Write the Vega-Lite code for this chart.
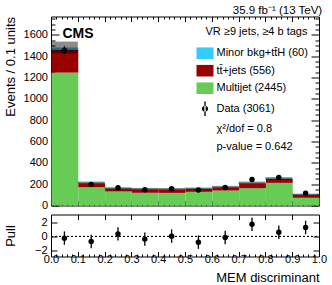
{
  "$schema": "https://vega.github.io/schema/vega-lite/v6.json",
  "padding": {"left": 3, "top": 3.5, "right": 0, "bottom": 0},
  "bounds": "flush",
  "config": {
    "font": "Liberation Sans",
    "view": {"stroke": "black", "strokeWidth": 1},
    "axis": {"grid": false, "domain": false, "labelColor": "black", "tickColor": "black", "titleColor": "black", "labelFontSize": 11, "titleFontSize": 13, "titleFontWeight": "normal", "labelFlush": false, "labelOverlap": false, "tickWidth": 1, "minExtent": 0},
    "legend": {"labelColor": "black", "titleColor": "black", "labelFontSize": 11, "padding": 0}
  },
  "spacing": 9,
  "datasets": {
    "stack": [
      {"lo": 0.0, "hi": 0.1, "process": "Multijet (2445)", "layer": 1, "events": 1245},
      {"lo": 0.1, "hi": 0.2, "process": "Multijet (2445)", "layer": 1, "events": 171},
      {"lo": 0.2, "hi": 0.3, "process": "Multijet (2445)", "layer": 1, "events": 131},
      {"lo": 0.3, "hi": 0.4, "process": "Multijet (2445)", "layer": 1, "events": 119},
      {"lo": 0.4, "hi": 0.5, "process": "Multijet (2445)", "layer": 1, "events": 118},
      {"lo": 0.5, "hi": 0.6, "process": "Multijet (2445)", "layer": 1, "events": 128},
      {"lo": 0.6, "hi": 0.7, "process": "Multijet (2445)", "layer": 1, "events": 140},
      {"lo": 0.7, "hi": 0.8, "process": "Multijet (2445)", "layer": 1, "events": 162},
      {"lo": 0.8, "hi": 0.9, "process": "Multijet (2445)", "layer": 1, "events": 212},
      {"lo": 0.9, "hi": 1.0, "process": "Multijet (2445)", "layer": 1, "events": 72},
      {"lo": 0.0, "hi": 0.1, "process": "tt̄+jets (556)", "layer": 2, "events": 217},
      {"lo": 0.1, "hi": 0.2, "process": "tt̄+jets (556)", "layer": 2, "events": 38},
      {"lo": 0.2, "hi": 0.3, "process": "tt̄+jets (556)", "layer": 2, "events": 28},
      {"lo": 0.3, "hi": 0.4, "process": "tt̄+jets (556)", "layer": 2, "events": 34},
      {"lo": 0.4, "hi": 0.5, "process": "tt̄+jets (556)", "layer": 2, "events": 34},
      {"lo": 0.5, "hi": 0.6, "process": "tt̄+jets (556)", "layer": 2, "events": 28},
      {"lo": 0.6, "hi": 0.7, "process": "tt̄+jets (556)", "layer": 2, "events": 31},
      {"lo": 0.7, "hi": 0.8, "process": "tt̄+jets (556)", "layer": 2, "events": 46},
      {"lo": 0.8, "hi": 0.9, "process": "tt̄+jets (556)", "layer": 2, "events": 37},
      {"lo": 0.9, "hi": 1.0, "process": "tt̄+jets (556)", "layer": 2, "events": 30},
      {"lo": 0.0, "hi": 0.1, "process": "Minor bkg+tt̄H (60)", "layer": 3, "events": 19},
      {"lo": 0.1, "hi": 0.2, "process": "Minor bkg+tt̄H (60)", "layer": 3, "events": 5},
      {"lo": 0.2, "hi": 0.3, "process": "Minor bkg+tt̄H (60)", "layer": 3, "events": 4},
      {"lo": 0.3, "hi": 0.4, "process": "Minor bkg+tt̄H (60)", "layer": 3, "events": 4},
      {"lo": 0.4, "hi": 0.5, "process": "Minor bkg+tt̄H (60)", "layer": 3, "events": 4},
      {"lo": 0.5, "hi": 0.6, "process": "Minor bkg+tt̄H (60)", "layer": 3, "events": 4},
      {"lo": 0.6, "hi": 0.7, "process": "Minor bkg+tt̄H (60)", "layer": 3, "events": 4},
      {"lo": 0.7, "hi": 0.8, "process": "Minor bkg+tt̄H (60)", "layer": 3, "events": 5},
      {"lo": 0.8, "hi": 0.9, "process": "Minor bkg+tt̄H (60)", "layer": 3, "events": 5},
      {"lo": 0.9, "hi": 1.0, "process": "Minor bkg+tt̄H (60)", "layer": 3, "events": 3}
    ],
    "bins": [
      {"lo": 0.0, "hi": 0.1, "mid": 0.05, "series": "Data (3061)", "data": 1455, "data_lo": 1417, "data_hi": 1493, "bkg_lo": 1426, "bkg_hi": 1536, "pull": -0.23, "pull_lo": -1.18, "pull_hi": 0.72},
      {"lo": 0.1, "hi": 0.2, "mid": 0.15, "series": "Data (3061)", "data": 198, "data_lo": 184, "data_hi": 212, "bkg_lo": 204, "bkg_hi": 224, "pull": -0.7, "pull_lo": -1.65, "pull_hi": 0.25},
      {"lo": 0.2, "hi": 0.3, "mid": 0.25, "series": "Data (3061)", "data": 166, "data_lo": 153, "data_hi": 179, "bkg_lo": 155, "bkg_hi": 171, "pull": 0.37, "pull_lo": -0.58, "pull_hi": 1.32},
      {"lo": 0.3, "hi": 0.4, "mid": 0.35, "series": "Data (3061)", "data": 147, "data_lo": 135, "data_hi": 159, "bkg_lo": 149, "bkg_hi": 165, "pull": -0.37, "pull_lo": -1.32, "pull_hi": 0.58},
      {"lo": 0.4, "hi": 0.5, "mid": 0.45, "series": "Data (3061)", "data": 157, "data_lo": 144, "data_hi": 170, "bkg_lo": 148, "bkg_hi": 164, "pull": 0.05, "pull_lo": -0.9, "pull_hi": 1.0},
      {"lo": 0.5, "hi": 0.6, "mid": 0.55, "series": "Data (3061)", "data": 145, "data_lo": 133, "data_hi": 157, "bkg_lo": 152, "bkg_hi": 168, "pull": -0.8, "pull_lo": -1.75, "pull_hi": 0.15},
      {"lo": 0.6, "hi": 0.7, "mid": 0.65, "series": "Data (3061)", "data": 168, "data_lo": 155, "data_hi": 181, "bkg_lo": 166, "bkg_hi": 184, "pull": -0.14, "pull_lo": -1.09, "pull_hi": 0.81},
      {"lo": 0.7, "hi": 0.8, "mid": 0.75, "series": "Data (3061)", "data": 244, "data_lo": 228, "data_hi": 260, "bkg_lo": 202, "bkg_hi": 224, "pull": 1.73, "pull_lo": 0.78, "pull_hi": 2.68},
      {"lo": 0.8, "hi": 0.9, "mid": 0.85, "series": "Data (3061)", "data": 262, "data_lo": 246, "data_hi": 278, "bkg_lo": 242, "bkg_hi": 266, "pull": 0.6, "pull_lo": -0.35, "pull_hi": 1.55},
      {"lo": 0.9, "hi": 1.0, "mid": 0.95, "series": "Data (3061)", "data": 116, "data_lo": 105, "data_hi": 127, "bkg_lo": 99, "bkg_hi": 111, "pull": 1.27, "pull_lo": 0.32, "pull_hi": 2.22}
    ]
  },
  "vconcat": [
    {
      "width": 268,
      "height": 189,
      "layer": [
        {
          "data": {"name": "stack"},
          "mark": {"type": "bar", "strokeWidth": 0, "binSpacing": 0},
          "encoding": {
            "x": {"field": "lo", "type": "quantitative", "bin": {"binned": true, "step": 0.1}, "scale": {"domain": [0, 1], "nice": false, "zero": false},
                  "axis": {"orient": "bottom", "values": [0, 0.1, 0.2, 0.3, 0.4, 0.5, 0.6, 0.7, 0.8, 0.9, 1], "labels": false, "tickSize": -5, "title": null}},
            "x2": {"field": "hi"},
            "y": {"field": "events", "type": "quantitative", "stack": "zero", "scale": {"domain": [0, 1771], "nice": false},
                  "axis": {"orient": "left", "values": [0, 200, 400, 600, 800, 1000, 1200, 1400, 1600], "format": "d", "tickSize": -8, "labelPadding": 11.5,
                           "title": "Events / 0.1 units", "titleX": -47, "titleY": 0, "titleAlign": "right", "titleBaseline": "top", "titleAngle": 270}},
            "color": {"field": "process", "type": "nominal",
                      "scale": {"domain": ["Minor bkg+tt̄H (60)", "tt̄+jets (556)", "Multijet (2445)"], "range": ["#33ccff", "#990000", "#66cc55"]},
                      "legend": {"orient": "none", "legendX": 145.5, "legendY": 9, "title": "VR ≥9 jets, ≥4 b tags", "titleAnchor": "end", "titleFontSize": 11, "titleFontWeight": "normal", "titlePadding": 8.2,
                                 "symbolType": "M-1,-0.68H1V0.68H-1Z", "symbolSize": 289, "symbolStrokeWidth": 0, "labelOffset": 3, "rowPadding": 2.5}},
            "order": {"field": "layer", "type": "quantitative"}
          }
        },
        {
          "data": {"name": "bins"},
          "mark": {"type": "rect", "fill": "black", "fillOpacity": 0.45},
          "encoding": {
            "x": {"field": "lo", "type": "quantitative", "scale": {"domain": [0, 1], "nice": false, "zero": false},
                  "axis": {"orient": "top", "values": [0, 0.1, 0.2, 0.3, 0.4, 0.5, 0.6, 0.7, 0.8, 0.9, 1], "labels": false, "tickSize": -5,
                           "title": "35.9 fb⁻¹ (13 TeV)", "titleX": 270.7, "titleY": -3.3, "titleAngle": 0, "titleAlign": "right", "titleBaseline": "alphabetic", "titleFontSize": 11.5}},
            "x2": {"field": "hi"},
            "y": {"field": "bkg_lo", "type": "quantitative", "scale": {"domain": [0, 1771], "nice": false},
                  "axis": {"orient": "right", "values": [0, 200, 400, 600, 800, 1000, 1200, 1400, 1600], "labels": false, "tickSize": -8, "title": null}},
            "y2": {"field": "bkg_hi"}
          }
        },
        {
          "data": {"name": "bins"},
          "mark": {"type": "rule", "color": "black", "strokeWidth": 1.3},
          "encoding": {
            "x": {"field": "mid", "type": "quantitative", "scale": {"domain": [0, 1], "nice": false, "zero": false},
                  "axis": {"orient": "bottom", "values": [0.02, 0.04, 0.06, 0.08, 0.12, 0.14, 0.16, 0.18, 0.22, 0.24, 0.26, 0.28, 0.32, 0.34, 0.36, 0.38, 0.42, 0.44, 0.46, 0.48, 0.52, 0.54, 0.56, 0.58, 0.62, 0.64, 0.66, 0.68, 0.72, 0.74, 0.76, 0.78, 0.82, 0.84, 0.86, 0.88, 0.92, 0.94, 0.96, 0.98], "labels": false, "tickSize": -2.5, "title": null}},
            "y": {"field": "data_lo", "type": "quantitative", "scale": {"domain": [0, 1771], "nice": false},
                  "axis": {"orient": "left", "values": [50, 100, 150, 250, 300, 350, 450, 500, 550, 650, 700, 750, 850, 900, 950, 1050, 1100, 1150, 1250, 1300, 1350, 1450, 1500, 1550, 1650, 1700, 1750], "labels": false, "tickSize": -4, "title": null}},
            "y2": {"field": "data_hi"}
          }
        },
        {
          "data": {"name": "bins"},
          "mark": {"type": "point", "filled": true, "color": "black", "size": 30, "opacity": 1},
          "encoding": {
            "x": {"field": "mid", "type": "quantitative", "scale": {"domain": [0, 1], "nice": false, "zero": false},
                  "axis": {"orient": "top", "values": [0.02, 0.04, 0.06, 0.08, 0.12, 0.14, 0.16, 0.18, 0.22, 0.24, 0.26, 0.28, 0.32, 0.34, 0.36, 0.38, 0.42, 0.44, 0.46, 0.48, 0.52, 0.54, 0.56, 0.58, 0.62, 0.64, 0.66, 0.68, 0.72, 0.74, 0.76, 0.78, 0.82, 0.84, 0.86, 0.88, 0.92, 0.94, 0.96, 0.98], "labels": false, "tickSize": -2.5, "title": null}},
            "y": {"field": "data", "type": "quantitative", "scale": {"domain": [0, 1771], "nice": false},
                  "axis": {"orient": "right", "values": [50, 100, 150, 250, 300, 350, 450, 500, 550, 650, 700, 750, 850, 900, 950, 1050, 1100, 1150, 1250, 1300, 1350, 1450, 1500, 1550, 1650, 1700, 1750], "labels": false, "tickSize": -4,
                           "title": "CMS", "titleX": -257, "titleY": 20.5, "titleAngle": 0, "titleAlign": "left", "titleBaseline": "alphabetic", "titleFontSize": 14, "titleFontWeight": "bold"}}
          }
        },
        {
          "data": {"name": "bins"},
          "mark": {"type": "point", "filled": true, "color": "black", "opacity": 0},
          "encoding": {
            "x": {"field": "mid", "type": "quantitative", "scale": {"domain": [0, 1], "nice": false, "zero": false}, "axis": null},
            "y": {"field": "data", "type": "quantitative", "scale": {"domain": [0, 1771], "nice": false}, "axis": null},
            "shape": {"field": "series", "type": "nominal",
                      "scale": {"domain": ["Data (3061)", "χ²/dof = 0.8", "p-value = 0.642"],
                                "range": ["M-0.08,-0.85H0.08V0.85H-0.08Z M-0.36,0A0.36,0.36 0 1,0 0.36,0A0.36,0.36 0 1,0 -0.36,0Z", "M0,0Z", "M0,0Z"]},
                      "legend": {"orient": "none", "legendX": 145.5, "legendY": 83.8, "title": null, "symbolSize": 289, "labelOffset": 3, "rowPadding": 4.2,
                                 "symbolOpacity": 1, "symbolFillColor": "black", "symbolStrokeWidth": 0}}
          }
        }
      ],
      "resolve": {"axis": {"x": "independent", "y": "independent"}}
    },
    {
      "width": 268,
      "height": 42,
      "layer": [
        {
          "data": {"name": "bins"},
          "mark": {"type": "rule", "color": "black", "strokeWidth": 0.8, "strokeDash": [2, 2]},
          "encoding": {
            "x": {"datum": 0, "type": "quantitative", "scale": {"domain": [0, 1], "nice": false, "zero": false},
                  "axis": {"orient": "bottom", "values": [0.02, 0.04, 0.06, 0.08, 0.12, 0.14, 0.16, 0.18, 0.22, 0.24, 0.26, 0.28, 0.32, 0.34, 0.36, 0.38, 0.42, 0.44, 0.46, 0.48, 0.52, 0.54, 0.56, 0.58, 0.62, 0.64, 0.66, 0.68, 0.72, 0.74, 0.76, 0.78, 0.82, 0.84, 0.86, 0.88, 0.92, 0.94, 0.96, 0.98], "labels": false, "tickSize": -2.5, "title": null}},
            "x2": {"datum": 1},
            "y": {"datum": 0, "type": "quantitative", "scale": {"domain": [-2.82, 3.1], "nice": false, "zero": false},
                  "axis": {"orient": "left", "values": [-2, 0, 2], "format": "d", "tickSize": -6, "labelPadding": 10,
                           "title": "Pull", "titleX": -47, "titleY": 21, "titleAlign": "center", "titleBaseline": "top", "titleAngle": 270}}
          }
        },
        {
          "data": {"name": "bins"},
          "mark": {"type": "rule", "color": "black", "strokeWidth": 1.3},
          "encoding": {
            "x": {"field": "mid", "type": "quantitative", "scale": {"domain": [0, 1], "nice": false, "zero": false},
                  "axis": {"orient": "bottom", "values": [0, 0.1, 0.2, 0.3, 0.4, 0.5, 0.6, 0.7, 0.8, 0.9, 1], "format": ".1f", "tickSize": -5, "labelPadding": 2,
                           "title": "MEM discriminant", "titleX": 268, "titleY": 25, "titleAlign": "right", "titleBaseline": "alphabetic"}},
            "y": {"field": "pull_lo", "type": "quantitative", "scale": {"domain": [-2.82, 3.1], "nice": false, "zero": false},
                  "axis": {"orient": "right", "values": [-2, 0, 2], "labels": false, "tickSize": -6, "title": null}},
            "y2": {"field": "pull_hi"}
          }
        },
        {
          "data": {"name": "bins"},
          "mark": {"type": "point", "filled": true, "color": "black", "size": 30, "opacity": 1},
          "encoding": {
            "x": {"field": "mid", "type": "quantitative", "scale": {"domain": [0, 1], "nice": false, "zero": false},
                  "axis": {"orient": "top", "values": [0, 0.1, 0.2, 0.3, 0.4, 0.5, 0.6, 0.7, 0.8, 0.9, 1], "labels": false, "tickSize": -5, "title": null}},
            "y": {"field": "pull", "type": "quantitative", "scale": {"domain": [-2.82, 3.1], "nice": false, "zero": false}, "axis": null}
          }
        }
      ],
      "resolve": {"axis": {"x": "independent", "y": "independent"}}
    }
  ]
}
